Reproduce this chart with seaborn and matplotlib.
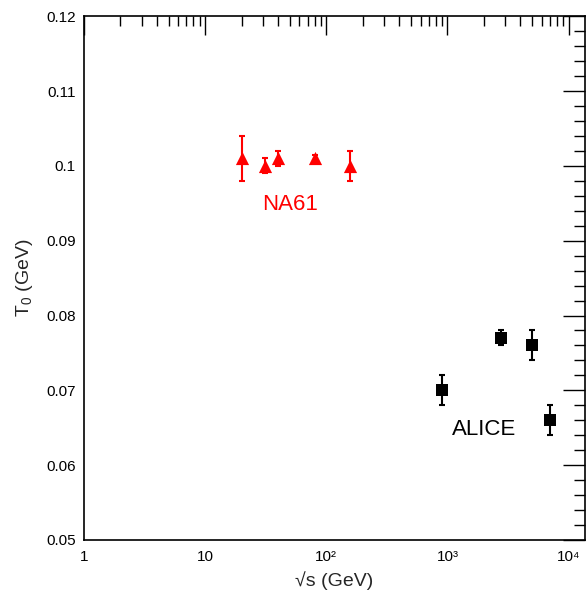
import numpy as np
import pandas as pd
import matplotlib
matplotlib.use("Agg")
import matplotlib.pyplot as plt
import matplotlib.ticker as mticker
import seaborn as sns

# Data
na61_x = [20, 31, 40, 80, 158]
na61_y = [0.101, 0.100, 0.101, 0.101, 0.100]
na61_err = [0.003, 0.001, 0.001, 0.0005, 0.002]

alice_x = [900, 2760, 5020, 7000]
alice_y = [0.070, 0.077, 0.076, 0.066]
alice_err = [0.002, 0.001, 0.002, 0.002]

x_ticks = [1, 10, 100, 1000, 10000]
x_ticklabels = ["1", "10", "10\u00b2", "10\u00b3", "10\u2074"]
y_ticks = [0.05, 0.06, 0.07, 0.08, 0.09, 0.1, 0.11, 0.12]
y_ticklabels = ["0.05", "0.06", "0.07", "0.08", "0.09", "0.1", "0.11", "0.12"]

sns.set_theme(style="white")
plt.rcParams['font.family'] = ['Liberation Sans', 'DejaVu Sans']
plt.rcParams['mathtext.fontset'] = 'custom'
plt.rcParams['mathtext.rm'] = 'Liberation Sans'
plt.rcParams['mathtext.it'] = 'Liberation Sans:italic'
plt.rcParams['mathtext.default'] = 'regular'

fig = plt.figure(figsize=(5.87, 5.99), dpi=100)
ax = fig.add_axes([0.143, 0.0985, 0.854, 0.8745])

df_na = pd.DataFrame({"x": na61_x, "y": na61_y})
df_al = pd.DataFrame({"x": alice_x, "y": alice_y})

ax.errorbar(na61_x, na61_y, yerr=na61_err, fmt="none", ecolor="red",
            elinewidth=1.5, capsize=2.2, capthick=1.5, zorder=2)
ax.errorbar(alice_x, alice_y, yerr=alice_err, fmt="none", ecolor="black",
            elinewidth=1.5, capsize=2.2, capthick=1.5, zorder=2)
sns.scatterplot(data=df_na, x="x", y="y", marker="^", color="red", s=90,
                edgecolor="red", linewidth=0, ax=ax, zorder=3)
sns.scatterplot(data=df_al, x="x", y="y", marker="s", color="black", s=80,
                edgecolor="black", linewidth=0, ax=ax, zorder=3)

ax.set_xscale("log")
ax.set_xlim(1, 1.37e4)
ax.set_ylim(0.05, 0.12)

ax.set_xticks(x_ticks)
ax.set_xticklabels(x_ticklabels)
ax.xaxis.set_minor_locator(mticker.LogLocator(base=10, subs=np.arange(2, 10), numticks=20))
ax.xaxis.set_minor_formatter(mticker.NullFormatter())
ax.set_yticks(y_ticks)
ax.set_yticklabels(y_ticklabels)
ax.yaxis.set_minor_locator(mticker.MultipleLocator(0.002))

ax.tick_params(which="both", direction="in", top=True, right=True, colors="black",
               labelsize=11, width=1)
ax.tick_params(axis="x", which="major", length=14, pad=7)
ax.tick_params(axis="y", which="major", length=16, pad=6)
ax.tick_params(axis="x", which="minor", length=7)
ax.tick_params(axis="y", which="minor", length=8)
for s in ax.spines.values():
    s.set_color("black")
    s.set_linewidth(1.2)

ax.set_xlabel("\u221as (GeV)", fontsize=14)
ax.set_ylabel("T$_{0}$ (GeV)", fontsize=14, labelpad=8)
ax.xaxis.set_label_coords(0.5, -0.06)

ax.text(50, 0.0949, "NA61", color="red", fontsize=16, ha="center", va="center")
ax.text(2000, 0.0647, "ALICE", color="black", fontsize=16, ha="center", va="center")

fig.savefig("out.png", dpi=100)
